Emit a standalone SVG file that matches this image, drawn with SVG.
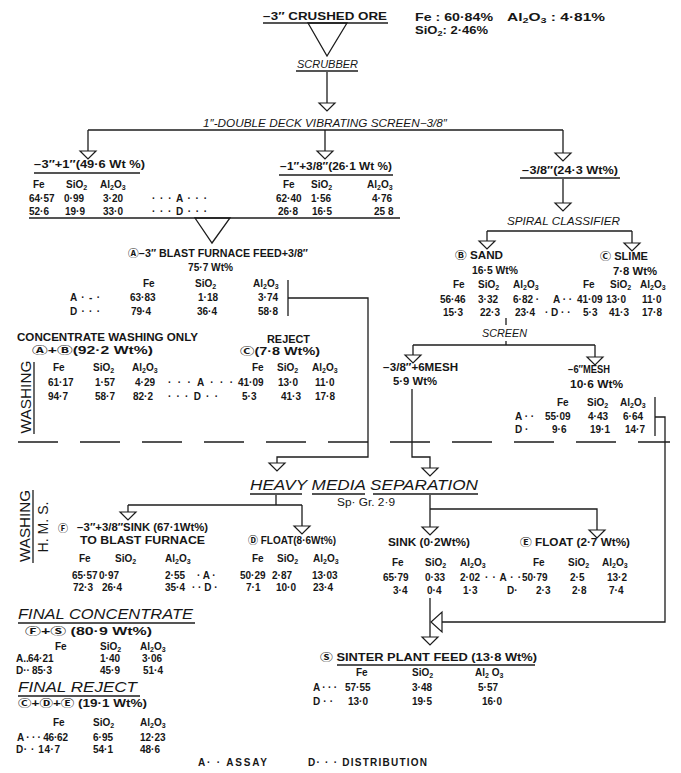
<svg xmlns="http://www.w3.org/2000/svg" xmlns:xlink="http://www.w3.org/1999/xlink" width="681" height="773" viewBox="0 0 681 773">
<style>
  text { font-family: "Liberation Sans", "DejaVu Sans", "Noto Sans CJK JP", sans-serif; fill: #161616; }
  .t { font-size: 10px; font-weight: bold; }
  .n { font-size: 10px; font-weight: bold; }
  .h { font-size: 10px; font-weight: bold; }
  .r { font-size: 10px; font-weight: normal; }
  .s { font-size: 7px; }
  .it { font-size: 10.5px; font-style: italic; }
  .big { font-size: 14px; font-style: italic; }
  .side { font-size: 14px; }
  .ln { stroke: #1c1c1c; stroke-width: 1.3; fill: none; }
  .tri { fill: #fff; stroke: #1c1c1c; stroke-width: 1.2; }
  .dash { stroke: #1c1c1c; stroke-width: 1.4; stroke-dasharray: 40 22; fill: none; }
</style>
<defs>
  <path id="tri" class="tri" d="M-8,0 L8,0 L0,8 Z"/>
  <path id="triL" class="tri" d="M0,-10 L0,10 L-11,0 Z"/>
</defs>
<rect width="681" height="773" fill="#fff"/>

<!-- connectors -->
<g id="connectors">
  <!-- feed funnel and scrubber -->
  <path class="ln" d="M308,23 L347,23 L327,56 Z"/>
  <path class="ln" d="M327,72 V103"/>
  <use xlink:href="#tri" x="327" y="103"/>
  <!-- screen products -->
  <path class="ln" d="M88,130 H563"/>
  <path class="ln" d="M88,130 V151"/>
  <use xlink:href="#tri" x="88" y="151"/>
  <path class="ln" d="M325,130 V151"/>
  <use xlink:href="#tri" x="325" y="151"/>
  <path class="ln" d="M563,130 V153"/>
  <use xlink:href="#tri" x="563" y="153"/>
  <!-- combined blast furnace feed -->
  <path class="ln" d="M29,218 H400"/>
  <path class="ln" d="M195,218 L230,218 L212,243 Z"/>
  <!-- fines to spiral classifier -->
  <path class="ln" d="M563,179 V203"/>
  <use xlink:href="#tri" x="563" y="203"/>
  <path class="ln" d="M487,231 H632"/>
  <path class="ln" d="M487,231 V241"/>
  <use xlink:href="#tri" x="487" y="241"/>
  <path class="ln" d="M632,231 V243"/>
  <use xlink:href="#tri" x="632" y="243"/>
  <!-- sand screen -->
  <path class="ln" d="M506,318 V325"/>
  <path class="ln" d="M506,341 V345"/>
  <path class="ln" d="M413,345 H595"/>
  <path class="ln" d="M413,345 V355"/>
  <use xlink:href="#tri" x="413" y="355"/>
  <path class="ln" d="M595,345 V357"/>
  <use xlink:href="#tri" x="595" y="357"/>
  <!-- +3/8 blast furnace feed to HMS -->
  <path class="ln" d="M288,280 V316"/>
  <path class="ln" d="M288,298 H368 V457 H277 V463"/>
  <use xlink:href="#tri" x="277" y="463"/>
  <!-- -3/8+6 mesh to HMS -->
  <path class="ln" d="M412,389 V457 H430 V468"/>
  <use xlink:href="#tri" x="430" y="468"/>
  <!-- -6 mesh to sinter plant feed -->
  <path class="ln" d="M655,397 V436"/>
  <path class="ln" d="M655,417 H665 V622 H442"/>
  <use xlink:href="#triL" x="442" y="622"/>
  <!-- washing / HMS boundary -->
  <path class="dash" d="M18,442 H670"/>
  <!-- HMS products -->
  <path class="ln" d="M276,495 V505"/>
  <path class="ln" d="M128,505 H302"/>
  <path class="ln" d="M128,505 V512"/>
  <use xlink:href="#tri" x="128" y="512"/>
  <path class="ln" d="M302,505 V526"/>
  <use xlink:href="#tri" x="302" y="526"/>
  <path class="ln" d="M430,495 V527"/>
  <use xlink:href="#tri" x="430" y="527"/>
  <path class="ln" d="M430,509 H597 V530"/>
  <use xlink:href="#tri" x="597" y="530"/>
  <!-- sink 0.2 to sinter plant feed -->
  <path class="ln" d="M430,598 V637"/>
  <use xlink:href="#tri" x="430" y="637"/>
</g>

<g id="crushed-ore">
  <text class="t" x="263" y="20" textLength="124" lengthAdjust="spacingAndGlyphs">−3″ CRUSHED ORE</text>
  <path class="ln" d="M263,23 H388"/>
  <text class="t" x="415" y="21" textLength="78" lengthAdjust="spacingAndGlyphs">Fe : 60·84%</text>
  <text class="t" x="507" y="21" textLength="98" lengthAdjust="spacingAndGlyphs">Al<tspan class="s" dy="2">2</tspan><tspan dy="-2">O</tspan><tspan class="s" dy="2">3</tspan><tspan dy="-2"> : 4·81%</tspan></text>
  <text class="t" x="415" y="34" textLength="73" lengthAdjust="spacingAndGlyphs">SiO<tspan class="s" dy="2">2</tspan><tspan dy="-2">: 2·46%</tspan></text>
</g>

<g id="scrubber">
  <text class="it" x="297" y="68" textLength="61" lengthAdjust="spacingAndGlyphs">SCRUBBER</text>
  <path class="ln" d="M296,71 H358"/>
</g>

<g id="vibrating-screen">
  <text class="it" x="203" y="127" textLength="244" lengthAdjust="spacingAndGlyphs">1″-DOUBLE DECK VIBRATING SCREEN−3/8″</text>
</g>

<g id="coarse">
  <text class="t" x="34" y="168" textLength="111" lengthAdjust="spacingAndGlyphs">−3″+1″(49·6 Wt %)</text>
  <path class="ln" d="M34,173 H140"/>
  <text class="h" x="33" y="188">Fe</text>
  <text class="h" x="66" y="188">SiO<tspan class="s" dy="2">2</tspan></text>
  <text class="h" x="100" y="188">Al<tspan class="s" dy="2">2</tspan><tspan dy="-2">O</tspan><tspan class="s" dy="2">3</tspan></text>
  <text class="n" x="29" y="202">64·57</text>
  <text class="n" x="64" y="202">0·99</text>
  <text class="n" x="103" y="202">3·20</text>
  <text class="n" x="29" y="215">52·6</text>
  <text class="n" x="65" y="215">19·9</text>
  <text class="n" x="103" y="215">33·0</text>
  <text class="n" x="152" y="202" textLength="55" lengthAdjust="spacing">· · · A · · ·</text>
  <text class="n" x="152" y="215" textLength="55" lengthAdjust="spacing">· · · D · · ·</text>
</g>

<g id="medium">
  <text class="t" x="280" y="170" textLength="112" lengthAdjust="spacingAndGlyphs">−1″+3/8″(26·1 Wt %)</text>
  <path class="ln" d="M279,175 H393"/>
  <text class="h" x="283" y="188">Fe</text>
  <text class="h" x="311" y="188">SiO<tspan class="s" dy="2">2</tspan></text>
  <text class="h" x="367" y="188">Al<tspan class="s" dy="2">2</tspan><tspan dy="-2">O</tspan><tspan class="s" dy="2">3</tspan></text>
  <text class="n" x="276" y="202">62·40</text>
  <text class="n" x="311" y="202">1·56</text>
  <text class="n" x="372" y="202">4·76</text>
  <text class="n" x="278" y="215">26·8</text>
  <text class="n" x="312" y="215">16·5</text>
  <text class="n" x="374" y="215">25 8</text>
</g>

<g id="blast-furnace-feed">
  <text class="t" x="128" y="257" textLength="180" lengthAdjust="spacingAndGlyphs">Ⓐ−3″ BLAST FURNACE FEED+3/8″</text>
  <text class="t" x="188" y="271" textLength="45" lengthAdjust="spacingAndGlyphs">75·7 Wt%</text>
  <text class="h" x="143" y="287">Fe</text>
  <text class="h" x="195" y="287">SiO<tspan class="s" dy="2">2</tspan></text>
  <text class="h" x="253" y="287">Al<tspan class="s" dy="2">2</tspan><tspan dy="-2">O</tspan><tspan class="s" dy="2">3</tspan></text>
  <text class="n" x="70" y="301" textLength="30" lengthAdjust="spacing">A · - ·</text>
  <text class="n" x="130" y="301">63·83</text>
  <text class="n" x="198" y="301">1·18</text>
  <text class="n" x="258" y="301">3·74</text>
  <text class="n" x="70" y="315" textLength="30" lengthAdjust="spacing">D · · ·</text>
  <text class="n" x="131" y="315">79·4</text>
  <text class="n" x="197" y="315">36·4</text>
  <text class="n" x="258" y="315">58·8</text>
</g>

<g id="fines">
  <text class="t" x="522" y="174" textLength="96" lengthAdjust="spacingAndGlyphs">−3/8″(24·3 Wt%)</text>
  <path class="ln" d="M520,178 H620"/>
</g>

<g id="spiral-classifier">
  <text class="it" x="507" y="225" textLength="113" lengthAdjust="spacingAndGlyphs">SPIRAL CLASSIFIER</text>
</g>

<g id="sand">
  <text class="t" x="455" y="259" textLength="48" lengthAdjust="spacingAndGlyphs">Ⓑ SAND</text>
  <text class="t" x="472" y="274" textLength="46" lengthAdjust="spacingAndGlyphs">16·5 Wt%</text>
  <text class="h" x="453" y="288">Fe</text>
  <text class="h" x="478" y="288">SiO<tspan class="s" dy="2">2</tspan></text>
  <text class="h" x="513" y="288">Al<tspan class="s" dy="2">2</tspan><tspan dy="-2">O</tspan><tspan class="s" dy="2">3</tspan></text>
  <text class="n" x="440" y="303">56·46</text>
  <text class="n" x="478" y="303">3·32</text>
  <text class="n" x="513" y="303">6·82 ·</text>
  <text class="n" x="443" y="316">15·3</text>
  <text class="n" x="480" y="316">22·3</text>
  <text class="n" x="515" y="316">23·4</text>
  <text class="n" x="553" y="303">A · ·</text>
  <text class="n" x="545" y="316">· D · ·</text>
</g>

<g id="slime">
  <text class="t" x="600" y="260" textLength="48" lengthAdjust="spacingAndGlyphs">Ⓒ SLIME</text>
  <text class="t" x="613" y="275" textLength="44" lengthAdjust="spacingAndGlyphs">7·8 Wt%</text>
  <text class="h" x="583" y="288">Fe</text>
  <text class="h" x="610" y="288">SiO<tspan class="s" dy="2">2</tspan></text>
  <text class="h" x="640" y="288">Al<tspan class="s" dy="2">2</tspan><tspan dy="-2">O</tspan><tspan class="s" dy="2">3</tspan></text>
  <text class="n" x="577" y="303">41·09</text>
  <text class="n" x="606" y="303">13·0</text>
  <text class="n" x="642" y="303">11·0</text>
  <text class="n" x="583" y="316">5·3</text>
  <text class="n" x="609" y="316">41·3</text>
  <text class="n" x="642" y="316">17·8</text>
</g>

<g id="sand-screen">
  <text class="it" x="482" y="337" textLength="45" lengthAdjust="spacingAndGlyphs">SCREEN</text>
</g>

<g id="plus-6-mesh">
  <text class="t" x="383" y="371" textLength="75" lengthAdjust="spacingAndGlyphs">−3/8″+6MESH</text>
  <text class="t" x="393" y="385" textLength="44" lengthAdjust="spacingAndGlyphs">5·9 Wt%</text>
</g>

<g id="minus-6-mesh">
  <text class="t" x="568" y="373" textLength="42" lengthAdjust="spacingAndGlyphs">−6″MESH</text>
  <text class="t" x="570" y="388" textLength="53" lengthAdjust="spacingAndGlyphs">10·6 Wt%</text>
  <text class="h" x="557" y="406">Fe</text>
  <text class="h" x="587" y="406">SiO<tspan class="s" dy="2">2</tspan></text>
  <text class="h" x="620" y="406">Al<tspan class="s" dy="2">2</tspan><tspan dy="-2">O</tspan><tspan class="s" dy="2">3</tspan></text>
  <text class="n" x="515" y="420">A · ·</text>
  <text class="n" x="545" y="420">55·09</text>
  <text class="n" x="588" y="420">4·43</text>
  <text class="n" x="623" y="420">6·64</text>
  <text class="n" x="515" y="433">D ·</text>
  <text class="n" x="552" y="433">9·6</text>
  <text class="n" x="590" y="433">19·1</text>
  <text class="n" x="625" y="433">14·7</text>
</g>

<g id="washing-concentrate">
  <text class="t" x="17" y="341" textLength="181" lengthAdjust="spacingAndGlyphs">CONCENTRATE WASHING ONLY</text>
  <text class="t" x="32" y="354" textLength="121" lengthAdjust="spacingAndGlyphs">Ⓐ+Ⓑ(92·2 Wt%)</text>
  <text class="h" x="53" y="371">Fe</text>
  <text class="h" x="93" y="371">SiO<tspan class="s" dy="2">2</tspan></text>
  <text class="h" x="132" y="371">Al<tspan class="s" dy="2">2</tspan><tspan dy="-2">O</tspan><tspan class="s" dy="2">3</tspan></text>
  <text class="n" x="48" y="386">61·17</text>
  <text class="n" x="95" y="386">1·57</text>
  <text class="n" x="135" y="386">4·29</text>
  <text class="n" x="48" y="400">94·7</text>
  <text class="n" x="95" y="400">58·7</text>
  <text class="n" x="133" y="400">82·2</text>
  <text class="n" x="168" y="386" textLength="65" lengthAdjust="spacing">· · · A · · ·</text>
  <text class="n" x="168" y="400" textLength="50" lengthAdjust="spacing">· · · D · ·</text>
</g>

<g id="washing-reject">
  <text class="t" x="267" y="343" textLength="43" lengthAdjust="spacingAndGlyphs">REJECT</text>
  <text class="t" x="240" y="355" textLength="80" lengthAdjust="spacingAndGlyphs">Ⓒ(7·8 Wt%)</text>
  <text class="h" x="252" y="371">Fe</text>
  <text class="h" x="277" y="371">SiO<tspan class="s" dy="2">2</tspan></text>
  <text class="h" x="312" y="371">Al<tspan class="s" dy="2">2</tspan><tspan dy="-2">O</tspan><tspan class="s" dy="2">3</tspan></text>
  <text class="n" x="238" y="386">41·09</text>
  <text class="n" x="278" y="386">13·0</text>
  <text class="n" x="315" y="386">11·0</text>
  <text class="n" x="242" y="400">5·3</text>
  <text class="n" x="281" y="400">41·3</text>
  <text class="n" x="315" y="400">17·8</text>
</g>

<g id="section-labels">
  <text class="side" transform="translate(31,397) rotate(-90)" text-anchor="middle" textLength="73" lengthAdjust="spacingAndGlyphs">WASHING</text>
  <path class="ln" d="M34,362 V434"/>
  <text class="side" transform="translate(30,526) rotate(-90)" text-anchor="middle" textLength="72" lengthAdjust="spacingAndGlyphs">WASHING</text>
  <path class="ln" d="M33,490 V563"/>
  <text class="side" transform="translate(48,527) rotate(-90)" text-anchor="middle" textLength="51" lengthAdjust="spacingAndGlyphs">H. M. S.</text>
</g>

<g id="heavy-media-separation">
  <text class="big" x="250" y="490" textLength="228" lengthAdjust="spacingAndGlyphs">HEAVY MEDIA SEPARATION</text>
  <path class="ln" d="M250,494 H302 M312,494 H365 M373,494 H478"/>
  <text class="r" x="337" y="506" textLength="58" lengthAdjust="spacingAndGlyphs">Sp· Gr. 2·9</text>
</g>

<g id="sink-coarse">
  <text class="t" x="58" y="532">Ⓕ</text>
  <text class="t" x="77" y="531" textLength="131" lengthAdjust="spacingAndGlyphs">−3″+3/8″SINK (67·1Wt%)</text>
  <text class="t" x="80" y="544" textLength="125" lengthAdjust="spacingAndGlyphs">TO BLAST FURNACE</text>
  <text class="h" x="79" y="562">Fe</text>
  <text class="h" x="115" y="562">SiO<tspan class="s" dy="2">2</tspan></text>
  <text class="h" x="165" y="562">Al<tspan class="s" dy="2">2</tspan><tspan dy="-2">O</tspan><tspan class="s" dy="2">3</tspan></text>
  <text class="n" x="72" y="579">65·57</text>
  <text class="n" x="99" y="579">0·97</text>
  <text class="n" x="165" y="579">2·55</text>
  <text class="n" x="73" y="591">72·3</text>
  <text class="n" x="102" y="591">26·4</text>
  <text class="n" x="165" y="591">35·4</text>
  <text class="n" x="197" y="579">· A ·</text>
  <text class="n" x="192" y="591">· · D ·</text>
</g>

<g id="float-coarse">
  <text class="t" x="248" y="544" textLength="88" lengthAdjust="spacingAndGlyphs">Ⓓ FLOAT(8·6Wt%)</text>
  <text class="h" x="252" y="562">Fe</text>
  <text class="h" x="277" y="562">SiO<tspan class="s" dy="2">2</tspan></text>
  <text class="h" x="313" y="562">Al<tspan class="s" dy="2">2</tspan><tspan dy="-2">O</tspan><tspan class="s" dy="2">3</tspan></text>
  <text class="n" x="240" y="579">50·29</text>
  <text class="n" x="272" y="579">2·87</text>
  <text class="n" x="312" y="579">13·03</text>
  <text class="n" x="246" y="591">7·1</text>
  <text class="n" x="276" y="591">10·0</text>
  <text class="n" x="313" y="591">23·4</text>
</g>

<g id="sink-fine">
  <text class="t" x="388" y="546" textLength="82" lengthAdjust="spacingAndGlyphs">SINK (0·2Wt%)</text>
  <text class="h" x="392" y="566">Fe</text>
  <text class="h" x="425" y="566">SiO<tspan class="s" dy="2">2</tspan></text>
  <text class="h" x="460" y="566">Al<tspan class="s" dy="2">2</tspan><tspan dy="-2">O</tspan><tspan class="s" dy="2">3</tspan></text>
  <text class="n" x="383" y="581">65·79</text>
  <text class="n" x="425" y="581">0·33</text>
  <text class="n" x="460" y="581">2·02</text>
  <text class="n" x="485" y="581" textLength="36" lengthAdjust="spacing">· · A · ·</text>
  <text class="n" x="393" y="594">3·4</text>
  <text class="n" x="427" y="594">0·4</text>
  <text class="n" x="463" y="594">1·3</text>
  <text class="n" x="507" y="594">D·</text>
</g>

<g id="float-fine">
  <text class="t" x="520" y="546" textLength="110" lengthAdjust="spacingAndGlyphs">Ⓔ FLOAT (2·7 Wt%)</text>
  <text class="h" x="533" y="566">Fe</text>
  <text class="h" x="568" y="566">SiO<tspan class="s" dy="2">2</tspan></text>
  <text class="h" x="602" y="566">Al<tspan class="s" dy="2">2</tspan><tspan dy="-2">O</tspan><tspan class="s" dy="2">3</tspan></text>
  <text class="n" x="522" y="581">50·79</text>
  <text class="n" x="570" y="581">2·5</text>
  <text class="n" x="607" y="581">13·2</text>
  <text class="n" x="536" y="594">2·3</text>
  <text class="n" x="572" y="594">2·8</text>
  <text class="n" x="609" y="594">7·4</text>
</g>

<g id="sinter-plant-feed">
  <text class="t" x="320" y="661" textLength="217" lengthAdjust="spacingAndGlyphs">Ⓢ SINTER PLANT FEED (13·8 Wt%)</text>
  <path class="ln" d="M337,665 H535"/>
  <text class="h" x="356" y="676">Fe</text>
  <text class="h" x="412" y="676">SiO<tspan class="s" dy="2">2</tspan></text>
  <text class="h" x="475" y="676">Al<tspan class="s" dy="2">2</tspan><tspan dy="-2"> O</tspan><tspan class="s" dy="2">3</tspan></text>
  <text class="n" x="313" y="691" textLength="24" lengthAdjust="spacing">A · · ·</text>
  <text class="n" x="345" y="691">57·55</text>
  <text class="n" x="412" y="691">3·48</text>
  <text class="n" x="478" y="691">5·57</text>
  <text class="n" x="313" y="705" textLength="20" lengthAdjust="spacing">D · ·</text>
  <text class="n" x="348" y="705">13·0</text>
  <text class="n" x="412" y="705">19·5</text>
  <text class="n" x="482" y="705">16·0</text>
</g>

<g id="final-concentrate">
  <text class="big" x="18" y="619" textLength="175" lengthAdjust="spacingAndGlyphs">FINAL CONCENTRATE</text>
  <path class="ln" d="M18,623 H195"/>
  <text class="t" x="25" y="635" textLength="127" lengthAdjust="spacingAndGlyphs">Ⓕ+Ⓢ (80·9 Wt%)</text>
  <text class="h" x="55" y="650">Fe</text>
  <text class="h" x="100" y="650">SiO<tspan class="s" dy="2">2</tspan></text>
  <text class="h" x="140" y="650">Al<tspan class="s" dy="2">2</tspan><tspan dy="-2">O</tspan><tspan class="s" dy="2">3</tspan></text>
  <text class="n" x="16" y="662">A..</text>
  <text class="n" x="28" y="662">64·21</text>
  <text class="n" x="100" y="662">1·40</text>
  <text class="n" x="142" y="662">3·06</text>
  <text class="n" x="16" y="674">D··</text>
  <text class="n" x="32" y="674">85·3</text>
  <text class="n" x="100" y="674">45·9</text>
  <text class="n" x="143" y="674">51·4</text>
</g>

<g id="final-reject">
  <text class="big" x="18" y="692" textLength="119" lengthAdjust="spacingAndGlyphs">FINAL REJECT</text>
  <path class="ln" d="M18,696 H140"/>
  <text class="t" x="18" y="707" textLength="129" lengthAdjust="spacingAndGlyphs">Ⓒ+Ⓓ+Ⓔ (19·1 Wt%)</text>
  <text class="h" x="53" y="726">Fe</text>
  <text class="h" x="93" y="726">SiO<tspan class="s" dy="2">2</tspan></text>
  <text class="h" x="140" y="726">Al<tspan class="s" dy="2">2</tspan><tspan dy="-2">O</tspan><tspan class="s" dy="2">3</tspan></text>
  <text class="n" x="17" y="741" textLength="51" lengthAdjust="spacing">A · · · 46·62</text>
  <text class="n" x="93" y="741">6·95</text>
  <text class="n" x="140" y="741">12·23</text>
  <text class="n" x="16" y="753" textLength="44" lengthAdjust="spacing">D· · 14·7</text>
  <text class="n" x="93" y="753">54·1</text>
  <text class="n" x="140" y="753">48·6</text>
</g>

<g id="legend">
  <text class="t" x="198" y="766" textLength="69" lengthAdjust="spacing">A· · ASSAY</text>
  <text class="t" x="308" y="766" textLength="119" lengthAdjust="spacing">D· · · DISTRIBUTION</text>
</g>
</svg>
